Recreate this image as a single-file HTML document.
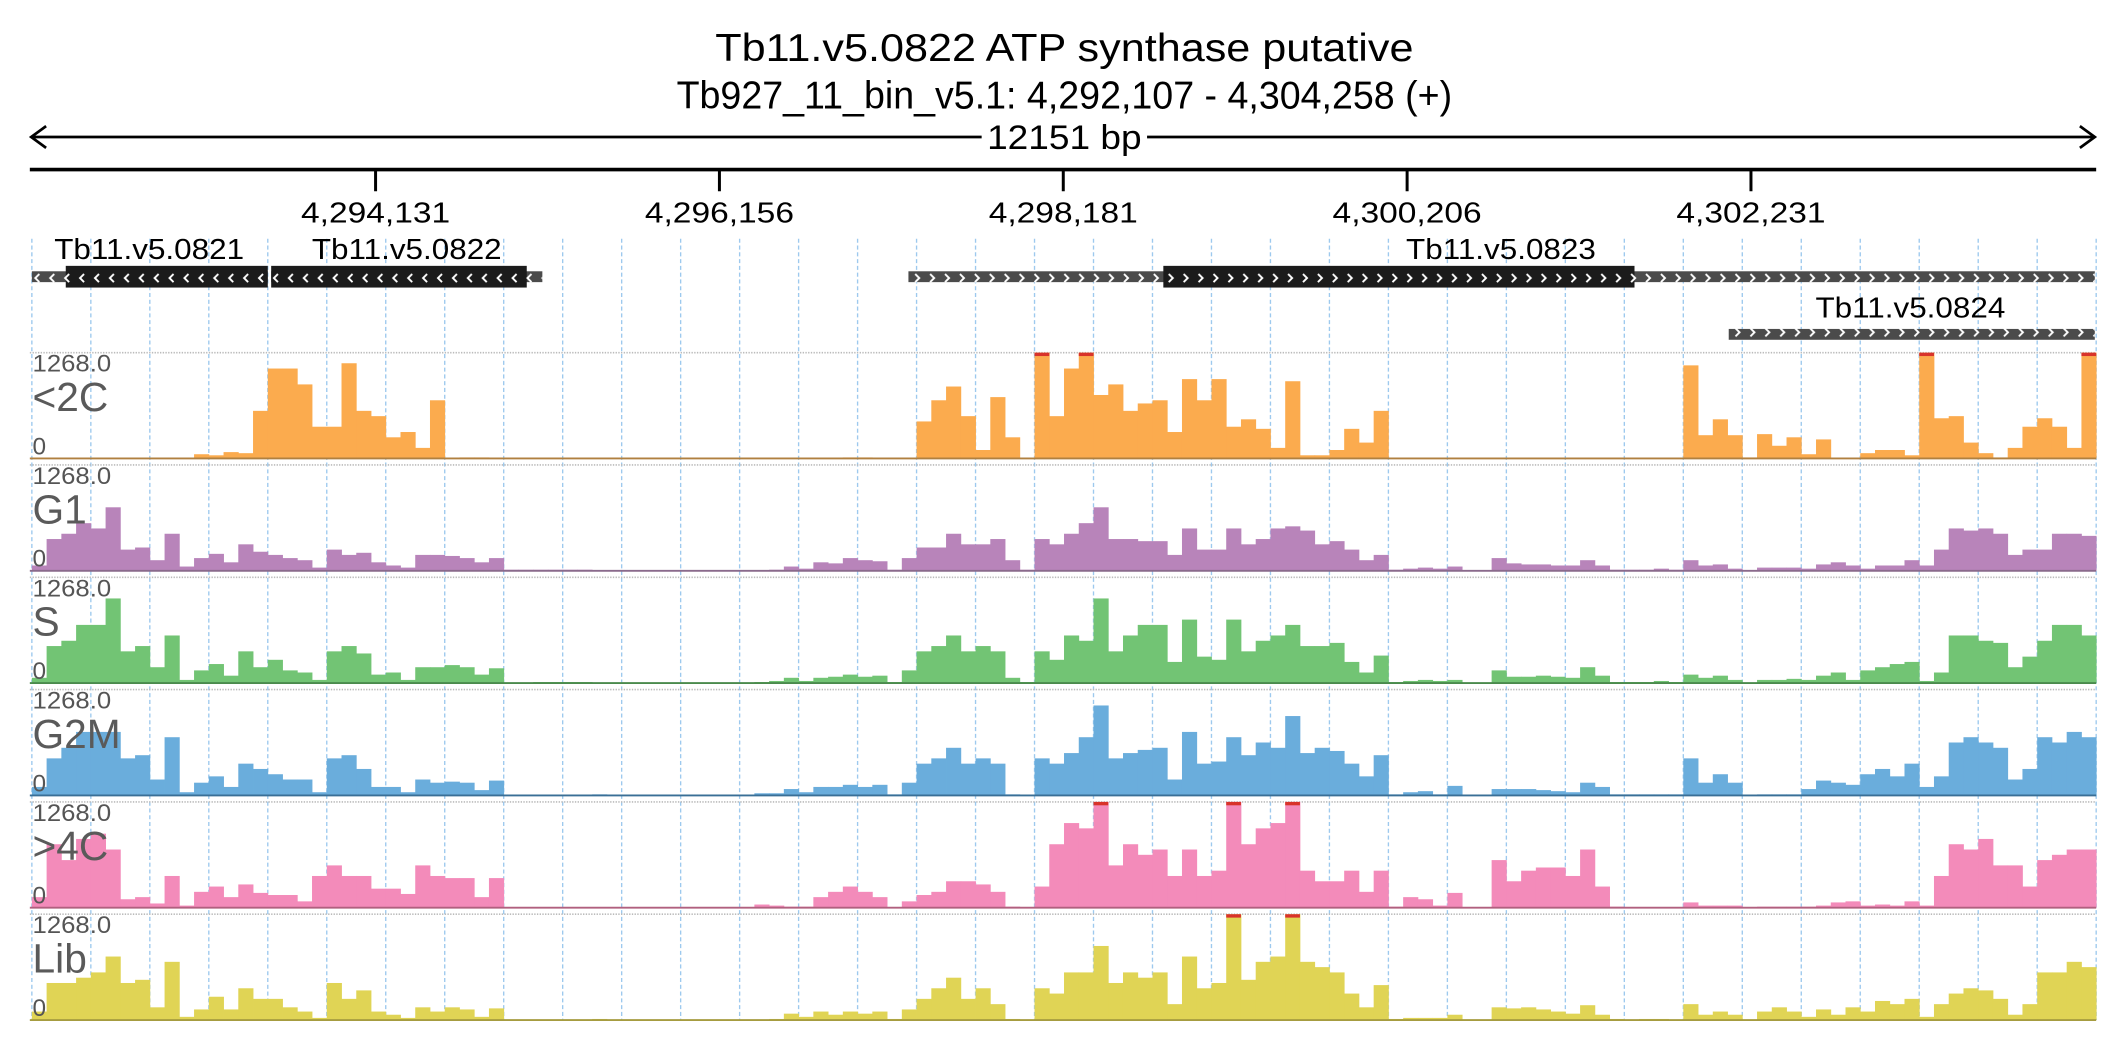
<!DOCTYPE html>
<html><head><meta charset="utf-8"><style>
html,body{margin:0;padding:0;background:#fff;}
svg{display:block;font-family:"Liberation Sans",sans-serif;}
</style></head><body>
<svg id="chart" width="2126" height="1058" viewBox="0 0 1568 780" preserveAspectRatio="none" xmlns="http://www.w3.org/2000/svg">
<defs>
<pattern id="chevL" width="11" height="10" patternUnits="userSpaceOnUse"><path d="M7 2 L4 5 L7 8" stroke="#fff" stroke-width="1.4" fill="none"/></pattern>
<pattern id="chevR" width="11" height="10" patternUnits="userSpaceOnUse"><path d="M4 2 L7 5 L4 8" stroke="#fff" stroke-width="1.4" fill="none"/></pattern>
</defs>
<g>
<text x="785" y="45" text-anchor="middle" font-size="29" textLength="515" lengthAdjust="spacingAndGlyphs">Tb11.v5.0822  ATP synthase  putative</text>
<text x="785" y="80" text-anchor="middle" font-size="29" textLength="572" lengthAdjust="spacingAndGlyphs">Tb927_11_bin_v5.1: 4,292,107 - 4,304,258 (+)</text>
</g>
<g>
<line x1="24" y1="101" x2="1545" y2="101" stroke="#000" stroke-width="2"/>
<path d="M34 93 L23 101 L34 109" stroke="#000" stroke-width="2" fill="none"/>
<path d="M1534 93 L1545 101 L1534 109" stroke="#000" stroke-width="2" fill="none"/>
<rect x="724" y="88" width="122" height="26" fill="#fff"/>
<text x="785" y="110" text-anchor="middle" font-size="25" textLength="114" lengthAdjust="spacingAndGlyphs">12151 bp</text>
</g>
<line x1="22" y1="125" x2="1546" y2="125" stroke="#000" stroke-width="2.6"/>
<g id="ticks"></g>
<g id="grid"></g>
<g id="genes"></g>
<g id="tracks"></g>
</svg>
<script>
const tickLabels = ["4,294,131","4,296,156","4,298,181","4,300,206","4,302,231"];
const tickPos = [4294131,4296156,4298181,4300206,4302231];
const trackNames = ["<2C","G1","S","G2M",">4C","Lib"];
const maxVal = 1268.0;
// values as % of max, 4 bins per grid cell, 35 cells
const v2C = [0,0,0,0, 0,0,0,0, 0,0,0,4, 3,6,5,45, 85,85,70,30, 30,90,45,40, 20,25,10,55, 0,1,1,0,
 0,0,0,0, 0,0,0,0, 0,0,0,0, 0,0,0,0, 0,0,0,0, 0,0,0,1, 1,0,0,0, 35,55,68,40, 8,58,20,0,
 100,40,85,100, 60,70,45,52, 55,25,75,55, 75,30,37,28, 10,73,3,3, 8,28,15,45,
 0,0,0,0, 0,0,0,0, 0,0,0,0, 0,0,0,0, 0,0,0,0, 88,22,37,22, 1,23,12,20, 4,18,0,0, 5,8,8,3, 100,38,40,15, 5,1,10,30, 38,30,10,100];
const vG1 = [5,30,35,45, 40,60,20,22, 10,35,4,12, 16,8,25,18, 15,12,10,3, 20,15,17,8, 5,3,15,15, 14,12,8,12,
 1,1,1,1, 1,1,0,0, 0,0,0,0, 0,0,0,0, 0,0,1,4, 2,8,7,12, 10,9,1,12, 22,22,35,25, 25,30,10,1,
 30,25,35,45, 60,30,30,28, 28,15,40,20, 20,40,25,30, 40,42,38,25, 28,20,10,15,
 1,2,3,2, 4,0,0,12, 7,6,6,5, 5,10,5,1, 1,1,2,1, 10,5,6,2, 0,3,3,3, 2,6,8,5, 2,5,5,10, 5,20,40,38, 40,35,15,20, 20,35,35,33];
const vS = [5,35,40,55, 55,80,30,35, 15,45,3,12, 18,7,30,15, 22,12,10,3, 30,35,28,8, 10,3,15,15, 17,15,8,14,
 0,0,1,1, 1,1,0,0, 0,0,0,0, 0,0,0,0, 0,1,2,5, 2,5,6,8, 6,7,1,12, 30,35,45,30, 35,30,5,1,
 30,22,45,40, 80,30,45,55, 55,20,60,25, 22,60,30,40, 45,55,35,35, 38,20,10,26,
 1,2,3,2, 3,0,0,12, 6,6,7,6, 5,15,7,1, 1,1,2,1, 8,5,7,3, 0,3,3,4, 3,7,10,3, 12,15,18,20, 2,10,45,45, 40,38,15,25, 40,55,55,45];
const vG2M = [8,35,45,60, 60,60,35,38, 15,55,3,12, 18,8,30,25, 20,15,15,3, 35,38,25,8, 8,3,15,12, 13,12,5,14,
 0,0,0,0, 0,0,1,0, 0,0,0,0, 0,0,0,0, 0,2,2,6, 3,8,8,10, 8,10,1,12, 30,35,45,30, 35,30,1,0,
 35,30,40,55, 85,35,40,43, 45,15,60,30, 32,55,38,50, 45,75,40,45, 42,30,18,38,
 1,3,4,1, 9,0,0,6, 6,6,5,4, 3,12,8,1, 1,1,1,1, 35,12,20,12, 0,1,1,1, 6,14,12,10, 20,25,18,30, 8,18,50,55, 50,45,15,25, 55,50,60,55];
const v4C = [10,60,45,65, 70,55,8,10, 4,30,2,15, 20,10,22,14, 12,12,6,30, 40,30,30,18, 18,13,40,30, 28,28,10,28,
 0,0,0,0, 0,0,0,0, 0,0,0,0, 0,0,0,0, 0,3,2,1, 1,10,15,20, 15,10,0,6, 12,15,25,25, 22,15,1,0,
 20,60,80,75, 100,40,60,50, 55,30,55,30, 35,100,60,75, 80,100,35,25, 25,35,15,35,
 1,10,8,2, 14,0,0,45, 25,35,38,38, 30,55,20,1, 0,0,0,0, 5,2,2,2, 0,1,1,1, 1,2,5,6, 2,3,2,6, 2,30,60,55, 65,40,40,20, 45,50,55,55];
const vLib = [8,35,35,40, 45,60,35,38, 12,55,3,10, 22,10,30,20, 20,12,8,2, 35,20,28,8, 5,2,12,8, 12,10,3,11,
 0,0,0,0, 0,0,1,0, 0,0,0,0, 0,0,0,0, 0,0,1,6, 3,8,5,8, 6,8,1,10, 20,30,40,20, 30,15,1,0,
 30,25,45,45, 70,35,45,40, 45,15,60,30, 35,100,38,55, 60,100,55,50, 45,25,12,33,
 1,2,2,2, 5,0,0,12, 11,12,10,8, 6,14,5,1, 0,1,1,0, 15,5,8,5, 0,8,12,8, 3,10,5,12, 8,18,15,20, 3,15,25,30, 28,20,5,15, 45,45,55,50];
const series = [v2C,vG1,vS,vG2M,v4C,vLib];
const colors = ["#fbab4e","#b884ba","#72c474","#6aaddc","#f38bba","#e0d455"];
const dark = ["#b08040","#8a6a8c","#4a8a4c","#3a6f96","#b0607f","#a69c40"];
const genes = [
 {name:"Tb11.v5.0821", s:23.5, cs:48.5, ce:197.5, e:197.5, dir:-1, row:0, lx:110},
 {name:"Tb11.v5.0822", s:200, cs:200, ce:388.5, e:400, dir:-1, row:0, lx:300},
 {name:"Tb11.v5.0823", s:670, cs:858, ce:1205.5, e:1545, dir:1, row:0, lx:1107},
 {name:"Tb11.v5.0824", s:1275, cs:null, ce:null, e:1545, dir:1, row:1, lx:1409}
];
const NS="http://www.w3.org/2000/svg";
const X0=23.5, X1=1546;
function xBin(i,n){return X0+i*(X1-X0)/n;}
function mk(tag,attrs,parent){const e=document.createElementNS(NS,tag);for(const k in attrs)e.setAttribute(k,attrs[k]);parent.appendChild(e);return e;}
const ticksG=document.getElementById('ticks');
tickPos.forEach((p,i)=>{
 const x=277+i*253.6;
 const l=mk('line',{x1:x,y1:125,x2:x,y2:141,stroke:'#000','stroke-width':2.2},ticksG);
 
 
 const t=mk('text',{x:x,y:164,'text-anchor':'middle','font-size':21,textLength:110,lengthAdjust:'spacingAndGlyphs'},ticksG);
 t.textContent=tickLabels[i];
 
 
});
const gridG=document.getElementById('grid');
for(let k=0;k<=35;k++){
 const x=23.5+k*43.5;
 const l=mk('line',{x1:x,y1:176,x2:x,y2:752,stroke:'#9dc9ee','stroke-width':1,'stroke-dasharray':'3,2'},gridG);
 
 
}
const genesG=document.getElementById('genes');
genes.forEach(g=>{
 const gg=mk('g',{},genesG);
 
 
 const cy=g.row===0?204:246.5;
 mk('rect',{x:g.s,y:cy-4,width:g.e-g.s,height:8,fill:'#4b4b4b'},gg);
 if(g.cs!==null) mk('rect',{x:g.cs,y:cy-8,width:g.ce-g.cs,height:16,fill:'#1b1b1b'},gg);
 mk('rect',{x:g.s,y:cy-5,width:g.e-g.s,height:10,fill:g.dir<0?'url(#chevL)':'url(#chevR)'},gg);
 const t=mk('text',{x:g.lx,y:g.row===0?191:234,'text-anchor':'middle','font-size':21,textLength:140,lengthAdjust:'spacingAndGlyphs'},gg);
 t.textContent=g.name;
 
 
});
const tracksG=document.getElementById('tracks');
series.forEach((vals,ti)=>{
 const top=260+ti*82.8, base=top+78, h=78;
 const tg=mk('g',{},tracksG);
 
 
 mk('line',{x1:22,y1:top,x2:1546,y2:top,stroke:'#bbb','stroke-width':1.2,'stroke-dasharray':'1,1'},tg);
 const n=vals.length;
 vals.forEach((v,i)=>{
  if(v<=0) return;
  const x=xBin(i,n), w=xBin(i+1,n)-x, bh=Math.min(v,100)/100*h;
  const r=mk('rect',{x:x,y:base-bh,width:w+0.3,height:bh,fill:colors[ti]},tg);
  
  
  if(v>=100){
   const c=mk('rect',{x:x,y:top,width:w,height:2.5,fill:'#d8332a'},tg);
   
   
  }
 });
 mk('line',{x1:22,y1:base,x2:1546,y2:base,stroke:dark[ti],'stroke-width':1.4},tg);
 const m=mk('text',{x:24,y:top+14,'font-size':18,fill:'#555',textLength:58,lengthAdjust:'spacingAndGlyphs'},tg);
 m.textContent=maxVal.toFixed(1);
 
 
 const nm=mk('text',{x:24,y:top+43,'font-size':30,fill:'#5a5a5a'},tg);
 nm.textContent=trackNames[ti];
 
 
 const z=mk('text',{x:24,y:base-3,'font-size':18,fill:'#555'},tg);
 z.textContent='0';
 
 
});
</script>
</body></html>
